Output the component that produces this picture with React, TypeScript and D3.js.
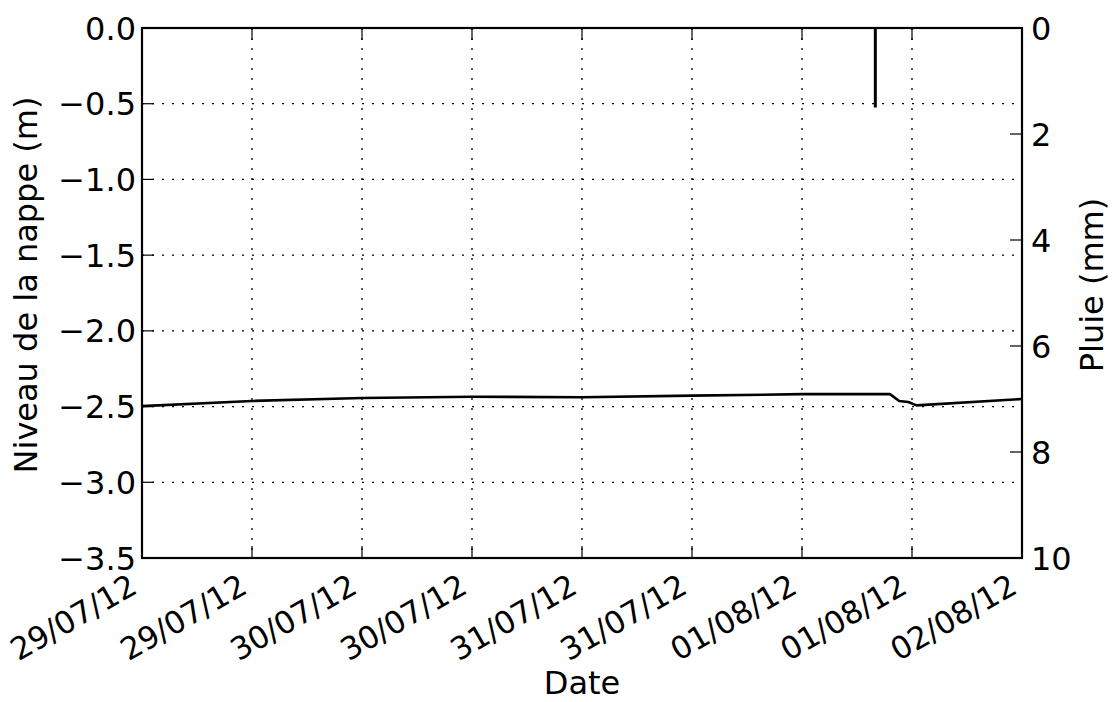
import React, { useEffect } from 'react';
import * as d3 from 'd3';

// water table level (m) readings
const levelTimes = [
    '2012-07-29T00:00', '2012-07-29T12:00', '2012-07-30T00:00', '2012-07-30T12:00',
    '2012-07-31T00:00', '2012-07-31T12:00', '2012-08-01T00:00', '2012-08-01T09:36',
    '2012-08-01T10:36', '2012-08-01T11:36', '2012-08-01T12:30', '2012-08-02T00:00'
];
const levelValues = [-2.497, -2.463, -2.443, -2.435, -2.438, -2.428, -2.418, -2.418, -2.463, -2.470, -2.492, -2.450];

// rainfall (mm)
const rainTimes = ['2012-08-01T08:00'];
const rainValues = [1.5];

const xDomain = ['2012-07-29T00:00', '2012-08-02T00:00'];
const levelDomain = [-3.5, 0];
const rainDomain = [0, 10];

const parse = d3.timeParse('%Y-%m-%dT%H:%M');

const App: React.FC = () => {
    useEffect(() => {
        document.body.style.margin = '0';
    }, []);

    const width = 1114;
    const height = 702;
    const margin = { top: 28, right: 92, bottom: 144, left: 142 };
    const x0 = margin.left, x1 = width - margin.right;
    const y0 = margin.top, y1 = height - margin.bottom;
    const font = '"DejaVu Sans", sans-serif';
    const fs = 32;

    const xScale = d3.scaleTime()
        .domain(xDomain.map(d => parse(d) as Date))
        .range([x0, x1]);
    const yScale = d3.scaleLinear().domain(levelDomain).range([y1, y0]);
    const rScale = d3.scaleLinear().domain(rainDomain).range([y0, y1]);

    const xTicks = d3.timeHour.every(12)!.range(xScale.domain()[0], new Date(+xScale.domain()[1] + 1));
    const yTicks = yScale.ticks(7);
    const rTicks = rScale.ticks(5);
    const fmtDate = d3.timeFormat('%d/%m/%y');
    const fmtLevel = d3.format('.1f');

    const levelData = levelTimes.map((t, i) => ({ t: parse(t) as Date, v: levelValues[i] }));
    const line = d3.line<{ t: Date; v: number }>()
        .x(d => xScale(d.t))
        .y(d => yScale(d.v));

    const grid = { stroke: '#000', strokeWidth: 1.3, strokeDasharray: '2 8' };

    return (
        <svg width={width} height={height} style={{ display: 'block', background: '#fff' }} fontFamily={font}>
            {/* grid */}
            <g>
                {xTicks.map((t, i) => (
                    <line key={'gx' + i} x1={xScale(t)} x2={xScale(t)} y1={y0} y2={y1} {...grid} />
                ))}
                {yTicks.map((v, i) => (
                    <line key={'gy' + i} x1={x0} x2={x1} y1={yScale(v)} y2={yScale(v)} {...grid} />
                ))}
            </g>

            {/* rain bars */}
            <g>
                {rainTimes.map((t, i) => (
                    <rect key={i} x={xScale(parse(t) as Date) - 1.5} y={rScale(0)} width={3}
                        height={rScale(rainValues[i]) - rScale(0)} fill="#000" />
                ))}
            </g>

            {/* water level */}
            <path d={line(levelData) || ''} fill="none" stroke="#000" strokeWidth={2.6} strokeLinejoin="round" />

            {/* ticks */}
            <g stroke="#000" strokeWidth={1.2}>
                {xTicks.map((t, i) => (
                    <g key={'tx' + i}>
                        <line x1={xScale(t)} x2={xScale(t)} y1={y1} y2={y1 - 12} />
                        <line x1={xScale(t)} x2={xScale(t)} y1={y0} y2={y0 + 12} />
                    </g>
                ))}
                {yTicks.map((v, i) => (
                    <line key={'ty' + i} x1={x0} x2={x0 + 12} y1={yScale(v)} y2={yScale(v)} />
                ))}
                {rTicks.map((v, i) => (
                    <line key={'tr' + i} x1={x1} x2={x1 - 12} y1={rScale(v)} y2={rScale(v)} />
                ))}
            </g>

            {/* frame */}
            <rect x={x0} y={y0} width={x1 - x0} height={y1 - y0} fill="none" stroke="#000" strokeWidth={2.2} />

            {/* tick labels */}
            <g fontSize={fs} fill="#000">
                {yTicks.map((v, i) => (
                    <text key={'ly' + i} x={x0 - 6} y={yScale(v)} dy="0.36em" textAnchor="end">{fmtLevel(v)}</text>
                ))}
                {rTicks.map((v, i) => (
                    <text key={'lr' + i} x={x1 + 9} y={rScale(v)} dy="0.36em" textAnchor="start">{v}</text>
                ))}
                {xTicks.map((t, i) => (
                    <text key={'lx' + i} textAnchor="end" fontSize={31}
                        transform={`translate(${xScale(t) - 3},${y1 + 34}) rotate(-30)`}>{fmtDate(t)}</text>
                ))}
            </g>

            {/* axis labels */}
            <g fontSize={fs} fill="#000">
                <text x={(x0 + x1) / 2} y={694} textAnchor="middle">Date</text>
                <text transform={`translate(37,285) rotate(-90)`} textAnchor="middle">Niveau de la nappe (m)</text>
                <text transform={`translate(1103,285) rotate(-90)`} textAnchor="middle">Pluie (mm)</text>
            </g>
        </svg>
    );
};

export default App;
